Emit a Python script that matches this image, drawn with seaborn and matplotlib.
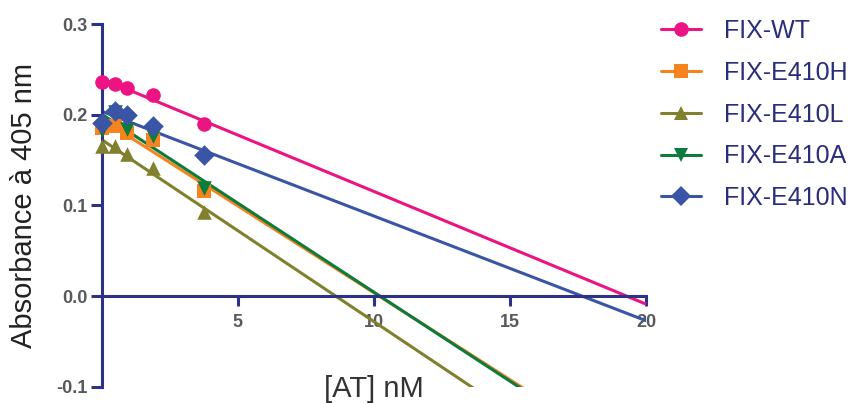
import numpy as np
import pandas as pd
import seaborn as sns
import matplotlib.pyplot as plt
from matplotlib.lines import Line2D

# Data
conc = [0, 0.47, 0.94, 1.875, 3.75]          # [AT] nM
wt = [0.236, 0.234, 0.229, 0.222, 0.190]
e410h = [0.185, 0.188, 0.180, 0.172, 0.116]
e410l = [0.165, 0.165, 0.157, 0.141, 0.093]
e410a = [0.183, 0.203, 0.184, 0.176, 0.119]
e410n = [0.191, 0.204, 0.200, 0.187, 0.1555]

series = ["FIX-WT", "FIX-E410H", "FIX-E410L", "FIX-E410A", "FIX-E410N"]
values = [wt, e410h, e410l, e410a, e410n]
colors = ["#EC1382", "#F5841F", "#80802F", "#0B7C3C", "#3A55A6"]
markers = ["o", "s", "^", "v", "D"]

yticks = [-0.1, 0.0, 0.1, 0.2, 0.3]
ytick_labels = ["-0.1", "0.0", "0.1", "0.2", "0.3"]
xticks = [5, 10, 15, 20]

df = pd.concat([pd.DataFrame({"conc": conc, "abs": v, "series": s})
                for s, v in zip(series, values)])

sns.set_style("ticks")
plt.rcParams["font.family"] = ["Liberation Sans", "DejaVu Sans"]

navy = "#2E3287"
fig = plt.figure(figsize=(8.52, 4.03), dpi=100)
ax = fig.add_axes([0.1194, 0.0404, 0.6388, 0.90])
ax.set_xlim(0, 20)
ax.set_ylim(-0.1, 0.3)

for s, c, m in zip(series, colors, markers):
    sub = df[df["series"] == s]
    sns.regplot(data=sub, x="conc", y="abs", ax=ax, ci=None, truncate=False,
                color=c, marker=m,
                scatter_kws={"s": 110, "clip_on": False, "zorder": 3, "alpha": 1,
                             "linewidths": 0},
                line_kws={"lw": 2.2, "zorder": 2})

ax.set_xlim(0, 20)
ax.set_ylim(-0.1, 0.3)

# axes crossing at zero
for side in ["top", "right"]:
    ax.spines[side].set_visible(False)
ax.spines["left"].set_position(("data", 0))
ax.spines["bottom"].set_position(("data", 0))
for side in ["left", "bottom"]:
    ax.spines[side].set_color(navy)
    ax.spines[side].set_linewidth(2.2)

ax.set_xticks(xticks)
ax.set_xticklabels([str(t) for t in xticks])
ax.set_yticks(yticks)
ax.set_yticklabels(ytick_labels)
ax.tick_params(axis="y", direction="out", length=8, width=2.2, color=navy,
               pad=2, labelsize=13, labelcolor="#58595B")
ax.tick_params(axis="x", direction="out", length=7, width=2.2, color=navy,
               pad=6, labelsize=13, labelcolor="#58595B")
for lab in ax.get_xticklabels() + ax.get_yticklabels():
    lab.set_fontweight("bold")

ax.set_xlabel("[AT] nM", fontsize=21, color="#333333")
ax.xaxis.label.set_va("center")
ax.xaxis.set_label_coords(0.5, -0.007)
ax.set_ylabel("Absorbance à 405 nm", fontsize=21, color="#222222")
ax.yaxis.label.set_va("center")
ax.yaxis.set_label_coords(-0.143, 0.5)

handles = [Line2D([], [], color=c, marker=m, lw=2.2, markersize=10.5,
                  markeredgewidth=0, label=s)
           for s, c, m in zip(series, colors, markers)]
leg = fig.legend(handles=handles, loc="upper left",
                 bbox_to_anchor=(661 / 852, 1 - 19 / 403),
                 frameon=False, fontsize=18, handlelength=1.6,
                 handletextpad=0.9, labelspacing=0.71, borderpad=0,
                 borderaxespad=0)
for t in leg.get_texts():
    t.set_color("#2A2D7C")

fig.savefig("out.png", dpi=100)
